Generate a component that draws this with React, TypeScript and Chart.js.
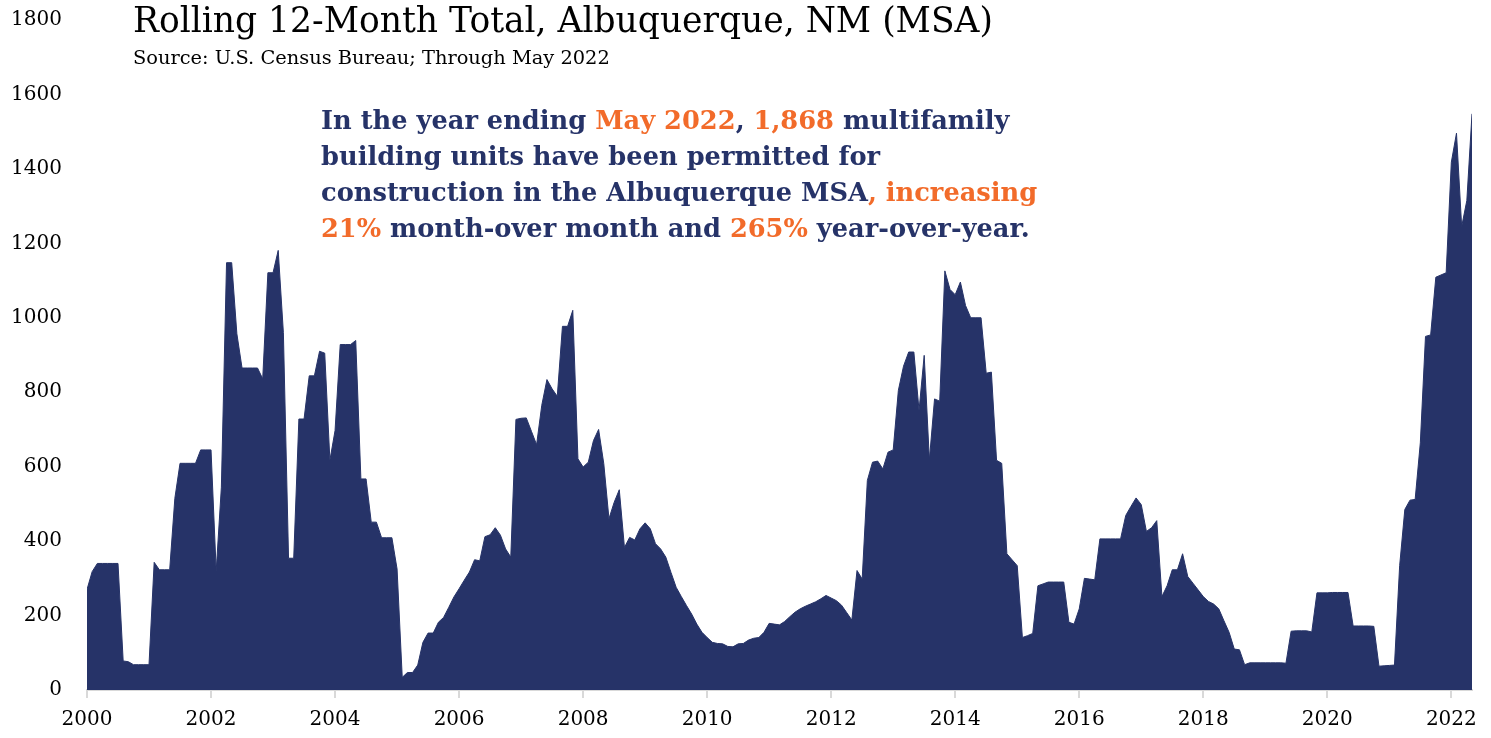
import React, { useEffect, useRef } from 'react';
import { Chart, registerables } from 'chart.js';

Chart.register(...registerables);

const NAVY = '#263368';
const ORANGE = '#F26B2A';
const FONT_FAMILY = '"DejaVu Serif", serif';

// Rolling 12-month totals, one array per year (Jan..Dec)
const v2000 = [270, 318, 340, 340, 340, 340, 340, 78, 76, 68, 68, 68];
const v2001 = [68, 343, 323, 323, 323, 515, 609, 609, 609, 609, 645, 645];
const v2002 = [645, 320, 545, 1148, 1148, 957, 865, 865, 865, 865, 836, 1121];
const v2003 = [1121, 1181, 960, 354, 354, 728, 728, 844, 844, 910, 905, 617];
const v2004 = [697, 928, 928, 928, 939, 567, 567, 451, 451, 409, 409, 409];
const v2005 = [325, 34, 47, 47, 67, 128, 153, 153, 182, 195, 222, 250];
const v2006 = [272, 295, 317, 350, 347, 412, 417, 436, 416, 379, 357, 727];
const v2007 = [730, 731, 695, 659, 765, 834, 809, 789, 977, 977, 1020, 621];
const v2008 = [599, 612, 670, 700, 608, 460, 504, 538, 383, 410, 403, 433];
const v2009 = [449, 433, 393, 379, 357, 316, 276, 251, 227, 204, 177, 155];
const v2010 = [141, 128, 125, 124, 117, 116, 124, 125, 134, 139, 141, 155];
const v2011 = [179, 177, 175, 184, 197, 209, 218, 225, 231, 237, 245, 254];
const v2012 = [247, 240, 228, 208, 188, 321, 298, 563, 612, 615, 594, 639];
const v2013 = [645, 805, 870, 908, 908, 751, 899, 618, 782, 776, 1126, 1076];
const v2014 = [1062, 1096, 1033, 1000, 1000, 1000, 851, 854, 617, 609, 366, 350];
const v2015 = [334, 141, 146, 152, 280, 285, 290, 290, 290, 290, 182, 177];
const v2016 = [218, 300, 298, 296, 406, 406, 406, 406, 406, 469, 493, 516];
const v2017 = [498, 426, 436, 455, 251, 280, 323, 323, 366, 305, 287, 269];
const v2018 = [251, 238, 231, 218, 186, 155, 110, 108, 68, 73, 73, 73];
const v2019 = [73, 73, 73, 73, 72, 158, 159, 159, 159, 156, 261, 261];
const v2020 = [261, 262, 262, 262, 262, 172, 172, 172, 172, 171, 64, 65];
const v2021 = [66, 67, 334, 485, 510, 512, 664, 950, 954, 1109, 1115, 1121];
const v2022 = [1418, 1496, 1245, 1315, 1548];

const values = [
  ...v2000, ...v2001, ...v2002, ...v2003, ...v2004, ...v2005, ...v2006, ...v2007,
  ...v2008, ...v2009, ...v2010, ...v2011, ...v2012, ...v2013, ...v2014, ...v2015,
  ...v2016, ...v2017, ...v2018, ...v2019, ...v2020, ...v2021, ...v2022,
];

const START_YEAR = 2000;
const xTickYears = [2000, 2002, 2004, 2006, 2008, 2010, 2012, 2014, 2016, 2018, 2020, 2022];
const yTickValues = [0, 200, 400, 600, 800, 1000, 1200, 1400, 1600, 1800];

const TITLE = 'Rolling 12-Month Total, Albuquerque, NM (MSA)';
const SUBTITLE = 'Source: U.S. Census Bureau; Through May 2022';

export default function App() {
  const canvasRef = useRef<HTMLCanvasElement>(null);

  useEffect(() => {
    const canvas = canvasRef.current;
    if (!canvas) return;
    const tickFont = { family: FONT_FAMILY, size: 20 };
    const chart = new Chart(canvas, {
      type: 'line',
      data: {
        datasets: [
          {
            data: values.map((v, i) => ({ x: i, y: v })),
            fill: 'origin',
            backgroundColor: NAVY,
            borderColor: NAVY,
            borderWidth: 1,
            pointRadius: 0,
            tension: 0,
          },
        ],
      },
      options: {
        animation: false,
        responsive: false,
        maintainAspectRatio: false,
        layout: { padding: { top: 20, right: 19, left: 0, bottom: 0 } },
        plugins: { legend: { display: false }, tooltip: { enabled: false }, title: { display: false } },
        scales: {
          x: {
            type: 'linear',
            min: 0,
            max: values.length - 1,
            afterBuildTicks: (scale: any) => {
              scale.ticks = xTickYears.map((y) => ({ value: (y - START_YEAR) * 12 }));
            },
            afterFit: (scale: any) => {
              scale.height = 48;
            },
            ticks: {
              callback: (v: any) => String(START_YEAR + Math.round(Number(v) / 12)),
              font: tickFont,
              color: '#000',
              padding: 10,
              maxRotation: 0,
              autoSkip: false,
            },
            grid: { drawOnChartArea: false, drawTicks: true, tickLength: 8, color: '#d9d9d9', lineWidth: 2 },
            border: { display: true, color: '#d9d9d9', width: 2 },
          },
          y: {
            min: 0,
            max: 1800,
            afterBuildTicks: (scale: any) => {
              scale.ticks = yTickValues.map((v) => ({ value: v }));
            },
            afterFit: (scale: any) => {
              scale.width = 87;
              scale.paddingTop = 0;
              scale.paddingBottom = 0;
            },
            ticks: { font: tickFont, color: '#000', padding: 25, callback: (v: any) => String(v) },
            grid: { display: false, drawTicks: false },
            border: { display: false },
          },
        },
      },
    });
    return () => chart.destroy();
  }, []);

  const hl = { color: ORANGE };
  return (
    <div style={{ position: 'fixed', left: 0, top: 0, width: 1491, height: 738, background: '#fff', overflow: 'hidden' }}>
      <canvas ref={canvasRef} width={1491} height={738} style={{ position: 'absolute', left: 0, top: 0 }} />
      <div
        style={{
          position: 'absolute', left: 133, top: 0, fontFamily: FONT_FAMILY, fontSize: 34.5,
          lineHeight: '40px', color: '#000', whiteSpace: 'nowrap',
        }}
      >
        {TITLE}
      </div>
      <div
        style={{
          position: 'absolute', left: 133, top: 46, fontFamily: FONT_FAMILY, fontSize: 19.4,
          lineHeight: '24px', color: '#000', whiteSpace: 'nowrap',
        }}
      >
        {SUBTITLE}
      </div>
      <div
        style={{
          position: 'absolute', left: 321, top: 102, fontFamily: FONT_FAMILY, fontSize: 25.7,
          fontWeight: 'bold', lineHeight: '36px', color: NAVY, whiteSpace: 'nowrap',
        }}
      >
        In the year ending <span style={hl}>May 2022</span>, <span style={hl}>1,868</span> multifamily
        <br />
        building units have been permitted for
        <br />
        construction in the Albuquerque MSA<span style={hl}>, increasing</span>
        <br />
        <span style={hl}>21%</span> month-over month and <span style={hl}>265%</span> year-over-year.
      </div>
    </div>
  );
}
